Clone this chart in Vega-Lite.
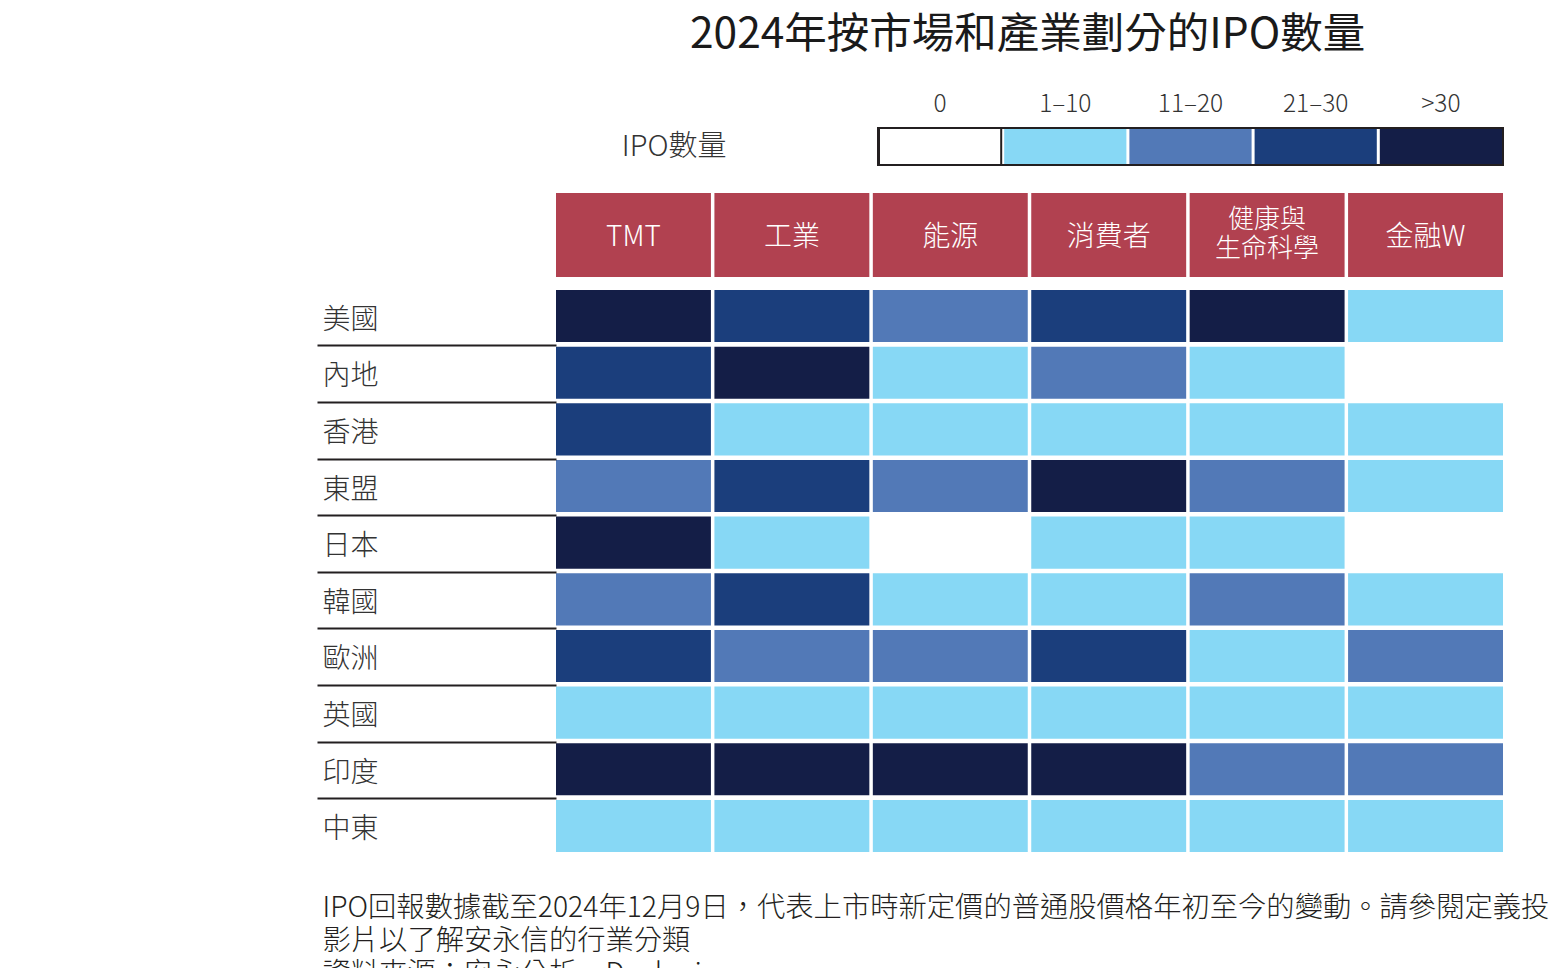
{
  "$schema": "https://vega.github.io/schema/vega-lite/v6.json",
  "background": "white",
  "padding": {"left": 316, "top": 14, "right": 0, "bottom": 0},
  "config": {
    "view": {"stroke": null},
    "font": "Noto Sans CJK TC",
    "axis": {"grid": false}
  },
  "title": {
    "text": "2024年按市場和產業劃分的IPO數量",
    "font": "Noto Sans CJK TC",
    "fontSize": 42.5,
    "fontWeight": 400,
    "color": "#1a1a1a",
    "anchor": "start",
    "frame": "group",
    "dx": 134,
    "offset": 34.5
  },
  "datasets": {
    "levels": [
      {"level": "0"},
      {"level": "1–10"},
      {"level": "11–20"},
      {"level": "21–30"},
      {"level": ">30"}
    ],
    "sectors": [
      {"sector": "TMT", "label": "TMT"},
      {"sector": "工業", "label": "工業"},
      {"sector": "能源", "label": "能源"},
      {"sector": "消費者", "label": "消費者"},
      {"sector": "健康與生命科學", "label": "健康與\n生命科學"},
      {"sector": "金融W", "label": "金融W"}
    ],
    "cells": [
      {"market": "美國", "sector": "TMT", "level": ">30"},
      {"market": "美國", "sector": "工業", "level": "21–30"},
      {"market": "美國", "sector": "能源", "level": "11–20"},
      {"market": "美國", "sector": "消費者", "level": "21–30"},
      {"market": "美國", "sector": "健康與生命科學", "level": ">30"},
      {"market": "美國", "sector": "金融W", "level": "1–10"},
      {"market": "內地", "sector": "TMT", "level": "21–30"},
      {"market": "內地", "sector": "工業", "level": ">30"},
      {"market": "內地", "sector": "能源", "level": "1–10"},
      {"market": "內地", "sector": "消費者", "level": "11–20"},
      {"market": "內地", "sector": "健康與生命科學", "level": "1–10"},
      {"market": "內地", "sector": "金融W", "level": "0"},
      {"market": "香港", "sector": "TMT", "level": "21–30"},
      {"market": "香港", "sector": "工業", "level": "1–10"},
      {"market": "香港", "sector": "能源", "level": "1–10"},
      {"market": "香港", "sector": "消費者", "level": "1–10"},
      {"market": "香港", "sector": "健康與生命科學", "level": "1–10"},
      {"market": "香港", "sector": "金融W", "level": "1–10"},
      {"market": "東盟", "sector": "TMT", "level": "11–20"},
      {"market": "東盟", "sector": "工業", "level": "21–30"},
      {"market": "東盟", "sector": "能源", "level": "11–20"},
      {"market": "東盟", "sector": "消費者", "level": ">30"},
      {"market": "東盟", "sector": "健康與生命科學", "level": "11–20"},
      {"market": "東盟", "sector": "金融W", "level": "1–10"},
      {"market": "日本", "sector": "TMT", "level": ">30"},
      {"market": "日本", "sector": "工業", "level": "1–10"},
      {"market": "日本", "sector": "能源", "level": "0"},
      {"market": "日本", "sector": "消費者", "level": "1–10"},
      {"market": "日本", "sector": "健康與生命科學", "level": "1–10"},
      {"market": "日本", "sector": "金融W", "level": "0"},
      {"market": "韓國", "sector": "TMT", "level": "11–20"},
      {"market": "韓國", "sector": "工業", "level": "21–30"},
      {"market": "韓國", "sector": "能源", "level": "1–10"},
      {"market": "韓國", "sector": "消費者", "level": "1–10"},
      {"market": "韓國", "sector": "健康與生命科學", "level": "11–20"},
      {"market": "韓國", "sector": "金融W", "level": "1–10"},
      {"market": "歐洲", "sector": "TMT", "level": "21–30"},
      {"market": "歐洲", "sector": "工業", "level": "11–20"},
      {"market": "歐洲", "sector": "能源", "level": "11–20"},
      {"market": "歐洲", "sector": "消費者", "level": "21–30"},
      {"market": "歐洲", "sector": "健康與生命科學", "level": "1–10"},
      {"market": "歐洲", "sector": "金融W", "level": "11–20"},
      {"market": "英國", "sector": "TMT", "level": "1–10"},
      {"market": "英國", "sector": "工業", "level": "1–10"},
      {"market": "英國", "sector": "能源", "level": "1–10"},
      {"market": "英國", "sector": "消費者", "level": "1–10"},
      {"market": "英國", "sector": "健康與生命科學", "level": "1–10"},
      {"market": "英國", "sector": "金融W", "level": "1–10"},
      {"market": "印度", "sector": "TMT", "level": ">30"},
      {"market": "印度", "sector": "工業", "level": ">30"},
      {"market": "印度", "sector": "能源", "level": ">30"},
      {"market": "印度", "sector": "消費者", "level": ">30"},
      {"market": "印度", "sector": "健康與生命科學", "level": "11–20"},
      {"market": "印度", "sector": "金融W", "level": "11–20"},
      {"market": "中東", "sector": "TMT", "level": "1–10"},
      {"market": "中東", "sector": "工業", "level": "1–10"},
      {"market": "中東", "sector": "能源", "level": "1–10"},
      {"market": "中東", "sector": "消費者", "level": "1–10"},
      {"market": "中東", "sector": "健康與生命科學", "level": "1–10"},
      {"market": "中東", "sector": "金融W", "level": "1–10"}
    ]
  },
  "bounds": "flush",
  "spacing": 13,
  "vconcat": [
    {
      "width": 947,
      "height": 39,
      "layer": [
        {
          "data": {"name": "levels"},
          "mark": {"type": "rect", "strokeWidth": 2},
          "encoding": {
            "x": {
              "field": "level",
              "type": "nominal",
              "sort": null,
              "scale": {"domain": ["0", "1–10", "11–20", "21–30", ">30"], "paddingInner": 0.024, "paddingOuter": 0, "rangeMin": 323, "rangeMax": 946},
              "axis": {"orient": "top", "title": null, "ticks": false, "domain": false, "labelAngle": 0, "labelFontSize": 24.5, "labelFontWeight": 300, "labelColor": "#333333", "labelPadding": 11}
            },
            "y": {
              "datum": "IPO數量",
              "type": "nominal",
              "scale": {"paddingInner": 0, "paddingOuter": 0.027},
              "axis": {"orient": "left", "title": null, "ticks": false, "domain": false, "offset": -180, "labelPadding": 10, "labelFontSize": 29, "labelFontWeight": 300, "labelColor": "#333333"}
            },
            "color": {
              "field": "level",
              "type": "nominal",
              "scale": {"domain": ["0", "1–10", "11–20", "21–30", ">30"], "range": ["#ffffff", "#87d8f5", "#5279b7", "#1b3e7c", "#141e47"]},
              "legend": null
            },
            "stroke": {"condition": {"test": "datum.level === '0'", "value": "#231f20"}, "value": "transparent"}
          }
        },
        {
          "data": {"values": [{"box": "frame"}]},
          "mark": {"type": "rect", "fill": "transparent", "stroke": "#231f20", "strokeWidth": 2},
          "encoding": {
            "x": {
              "field": "box",
              "type": "nominal",
              "scale": {"paddingInner": 0, "paddingOuter": 0, "rangeMin": 322, "rangeMax": 947},
              "axis": null
            },
            "y": {"datum": "IPO數量", "type": "nominal"}
          }
        }
      ],
      "resolve": {"scale": {"x": "independent"}, "axis": {"x": "independent"}}
    },
    {
      "width": 947,
      "height": 98,
      "data": {"name": "sectors"},
      "encoding": {
        "x": {
          "field": "sector",
          "type": "nominal",
          "sort": null,
          "scale": {"domain": ["TMT", "工業", "能源", "消費者", "健康與生命科學", "金融W"], "paddingInner": 0.022, "paddingOuter": 0},
          "axis": null
        },
        "y": {"datum": "header", "type": "nominal", "scale": {"paddingInner": 0, "paddingOuter": 0.0833, "align": 1}, "axis": null}
      },
      "layer": [
        {"mark": {"type": "rect", "color": "#b14150"}},
        {
          "transform": [{"filter": "indexof(datum.label, '\\n') < 0"}],
          "mark": {"type": "text", "color": "#ffffff", "fontSize": 28, "fontWeight": 300, "align": "center", "baseline": "middle", "dy": 3},
          "encoding": {"text": {"field": "label"}}
        },
        {
          "transform": [{"filter": "indexof(datum.label, '\\n') >= 0"}],
          "mark": {"type": "text", "color": "#ffffff", "fontSize": 26, "fontWeight": 300, "lineBreak": "\n", "lineHeight": 29, "align": "center", "baseline": "middle", "dy": -15},
          "encoding": {"text": {"field": "label"}}
        }
      ]
    },
    {
      "width": 947,
      "height": 562,
      "data": {"name": "cells"},
      "mark": {"type": "rect"},
      "encoding": {
        "x": {
          "field": "sector",
          "type": "nominal",
          "sort": null,
          "scale": {"domain": ["TMT", "工業", "能源", "消費者", "健康與生命科學", "金融W"], "paddingInner": 0.022, "paddingOuter": 0},
          "axis": {
            "orient": "bottom",
            "labels": false,
            "ticks": false,
            "domain": false,
            "title": ["IPO回報數據截至2024年12月9日，代表上市時新定價的普通股價格年初至今的變動。請參閱定義投", "影片以了解安永信的行業分類", "資料來源：安永分析、Dealogic"],
            "titleFontSize": 28.3,
            "titleFontWeight": 300,
            "titleColor": "#231f20",
            "titleAlign": "left",
            "titleAnchor": "start",
            "titleBaseline": "top",
            "titleLineHeight": 33,
            "titleX": -234,
            "titleY": 42
          }
        },
        "y": {
          "field": "market",
          "type": "nominal",
          "sort": null,
          "scale": {"domain": ["美國", "內地", "香港", "東盟", "日本", "韓國", "歐洲", "英國", "印度", "中東"], "paddingInner": 0.08, "paddingOuter": 0},
          "axis": {
            "orient": "left",
            "title": null,
            "domain": false,
            "ticks": true,
            "tickSize": 239,
            "tickWidth": 2,
            "tickColor": {"condition": {"test": "datum.value === '美國'", "value": "transparent"}, "value": "#231f20"},
            "tickOffset": -27.5,
            "labelOffset": 31.5,
            "labelAlign": "left",
            "labelBaseline": "middle",
            "labelPadding": -5,
            "labelFontSize": 28,
            "labelFontWeight": 300,
            "labelColor": "#333333"
          }
        },
        "color": {
          "field": "level",
          "type": "nominal",
          "scale": {"domain": ["0", "1–10", "11–20", "21–30", ">30"], "range": ["#ffffff", "#87d8f5", "#5279b7", "#1b3e7c", "#141e47"]},
          "legend": null
        }
      }
    }
  ]
}
